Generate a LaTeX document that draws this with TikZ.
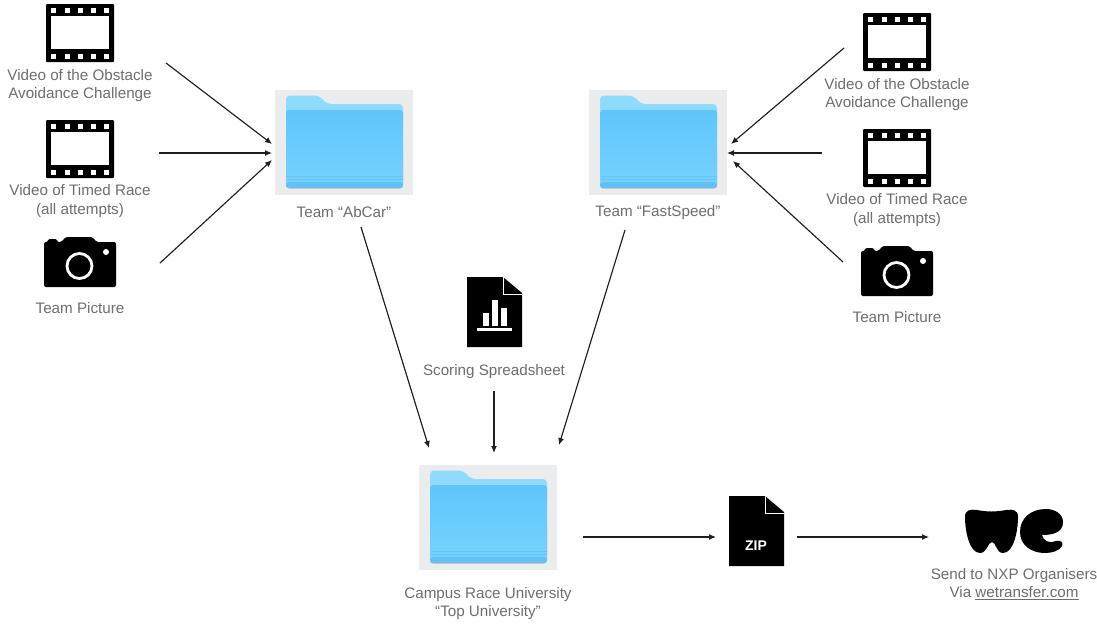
\documentclass[tikz,border=0pt]{standalone}
\usepackage{fontspec}
\setmainfont{Liberation Sans}
\usetikzlibrary{arrows.meta}
\definecolor{lbl}{HTML}{6E6E6E}
\definecolor{fbg}{HTML}{EBECED}
\definecolor{fback}{HTML}{8FDAFF}
\definecolor{ftop}{HTML}{5FC5FA}
\definecolor{fbot}{HTML}{78D2FE}
\definecolor{fstripe}{HTML}{62C0F4}
\tikzset{
  x=1pt,y=-1pt,
  lab/.style={font=\fontsize{15.2}{18.3}\selectfont,text=lbl,align=center,inner sep=0pt},
  conn/.style={draw=black!88,line width=1.15pt,-{Latex[length=7pt,width=6pt]}},
  icon/.style={fill=black,draw=none},
  hole/.style={fill=white,draw=none},
  ghost/.style={inner sep=0pt,minimum size=0pt},
}
\newcommand{\filmicon}[2]{% top-left corner
  \begin{scope}[shift={(#1,#2)}]
    \fill[icon,rounded corners=1pt] (0,0) rectangle (68,58);
    \fill[hole] (5,12) rectangle (63,45);
    \foreach \xx in {7,21,34,47,60}{
      \fill[hole] (\xx-2.5,3.5) rectangle (\xx+2.5,8.5);
      \fill[hole] (\xx-2.5,49.5) rectangle (\xx+2.5,54.5);
    }
  \end{scope}}
\newcommand{\camicon}[2]{%
  \begin{scope}[shift={(#1,#2)}]
    \fill[icon,rounded corners=2pt] (0,5) -- (4,5) -- (4,2) -- (13,2) -- (13,5) -- (18,5) -- (21,0) -- (49,0) -- (52,5) -- (72,5) -- (72,50) -- (0,50) -- cycle;
    \draw[white,line width=2.8pt] (35.5,29) circle[radius=12.5];
    \fill[hole] (62,15) circle[radius=3];
  \end{scope}}
\newcommand{\foldericon}[2]{%
  \begin{scope}[shift={(#1,#2)}]
    \fill[fbg] (0,0) rectangle (138,105);
    \fill[fback,rounded corners=4pt] (11,22) -- (11,5.5) -- (44,5.5) -- (52,14) -- (128,14) -- (128,40) -- (11,40) -- cycle;
    \fill[black!30,rounded corners=3pt] (11,60) rectangle (128,98.5);
    \shade[top color=ftop,bottom color=fbot,rounded corners=3pt] (11,20) rectangle (128,97);
    \fill[fstripe,rounded corners=3pt] (11,92) rectangle (128,97.8);
    \draw[fstripe,line width=0.7pt,opacity=.8] (11.5,86.5) -- (127.5,86.5) (11.5,89.5) -- (127.5,89.5);
  \end{scope}}
\newcommand{\docbody}[2]{%
  \fill[icon] (#1,#2) -- (#1+36,#2) -- (#1+55,#2+16) -- (#1+55,#2+70) -- (#1,#2+70) -- cycle;
  \draw[white,line width=0.9pt] (#1+36,#2) -- (#1+36,#2+17) -- (#1+55,#2+17);}
\begin{document}
\begin{tikzpicture}
\useasboundingbox[fill=white] (0,0) rectangle (1097,624);
% icons left
\filmicon{46}{4}
\filmicon{46}{120}
\camicon{44}{237}
% icons right
\filmicon{863}{13}
\filmicon{863}{129}
\camicon{861}{246}
% folders
\foldericon{275}{90}
\foldericon{589}{90}
\foldericon{419}{465}
% documents
\docbody{467}{277}
\fill[hole] (483,313) rectangle (489,326);
\fill[hole] (492,300) rectangle (498,326);
\fill[hole] (501,308) rectangle (507,326);
\fill[hole] (477,328) rectangle (512,331);
\docbody{729}{496}
\node[ghost,font=\fontsize{14}{14}\selectfont\bfseries,text=white] (ziptext) at (756,546) {ZIP};
% we logo
\fill[icon] (965,517) .. controls (965,510) and (970,509) .. (977,510) .. controls (988,512) and (995,512) .. (1006,510) .. controls (1013,509) and (1018,510) .. (1018,517) .. controls (1018,530) and (1014,553) .. (1003,553) .. controls (996,553) and (996,542) .. (992,542) .. controls (988,542) and (987,553) .. (980,553) .. controls (969,553) and (965,530) .. (965,517) -- cycle;
\fill[icon] (1063,522) .. controls (1063,514) and (1055,509) .. (1046,509) .. controls (1031,509) and (1020,518) .. (1020,532) .. controls (1020,545) and (1031,553) .. (1045,553) .. controls (1052,553) and (1059,551) .. (1062,546) .. controls (1064,542) and (1060,540) .. (1056,541) .. controls (1050,544) and (1043,541) .. (1042,535) .. controls (1052,535) and (1063,533) .. (1063,522) -- cycle;
% labels
\node[lab] (l1) at (80,85.7) {Video of the Obstacle\\Avoidance Challenge};
\node[lab] (l2) at (80,201) {Video of Timed Race\\(all attempts)};
\node[lab] (l3) at (80,308) {Team Picture};
\node[lab] (r1) at (897,94.7) {Video of the Obstacle\\Avoidance Challenge};
\node[lab] (r2) at (897,210) {Video of Timed Race\\(all attempts)};
\node[lab] (r3) at (897,317) {Team Picture};
\node[lab] (abcar) at (344,212) {Team “AbCar”};
\node[lab] (fast) at (658,213) {Team “FastSpeed”};
\node[lab] (score) at (494,371.5) {Scoring Spreadsheet};
\node[lab] (campus) at (488,603.5) {Campus Race University\\“Top University”};
\node[lab] (send) at (1014,584) {Send to NXP Organisers\\Via \underline{wetransfer.com}};
% connector ends
\coordinate (a1) at (166,63);
\coordinate (a2) at (159,153);
\coordinate (a3) at (160,263);
\coordinate (ah) at (272,144);
\coordinate (ah2) at (272,153);
\coordinate (ah3) at (272,160);
\coordinate (b1) at (844,48);
\coordinate (b2) at (822,153);
\coordinate (b3) at (843,262);
\coordinate (bh) at (731,144);
\coordinate (bh2) at (727,153);
\coordinate (bh3) at (733,161);
\coordinate (c1s) at (361,227);
\coordinate (c1e) at (429,448);
\coordinate (c2s) at (625,230);
\coordinate (c2e) at (559,445);
\coordinate (c3s) at (494,391);
\coordinate (c3e) at (494,453);
\coordinate (d1s) at (583,537);
\coordinate (d1e) at (716,537);
\coordinate (d2s) at (797,537);
\coordinate (d2e) at (929,537);
\draw[conn] (a1) -- (ah);
\draw[conn] (a2) -- (ah2);
\draw[conn] (a3) -- (ah3);
\draw[conn] (b1) -- (bh);
\draw[conn] (b2) -- (bh2);
\draw[conn] (b3) -- (bh3);
\draw[conn] (c1s) -- (c1e);
\draw[conn] (c2s) -- (c2e);
\draw[conn] (c3s) -- (c3e);
\draw[conn] (d1s) -- (d1e);
\draw[conn] (d2s) -- (d2e);
\end{tikzpicture}
\end{document}
